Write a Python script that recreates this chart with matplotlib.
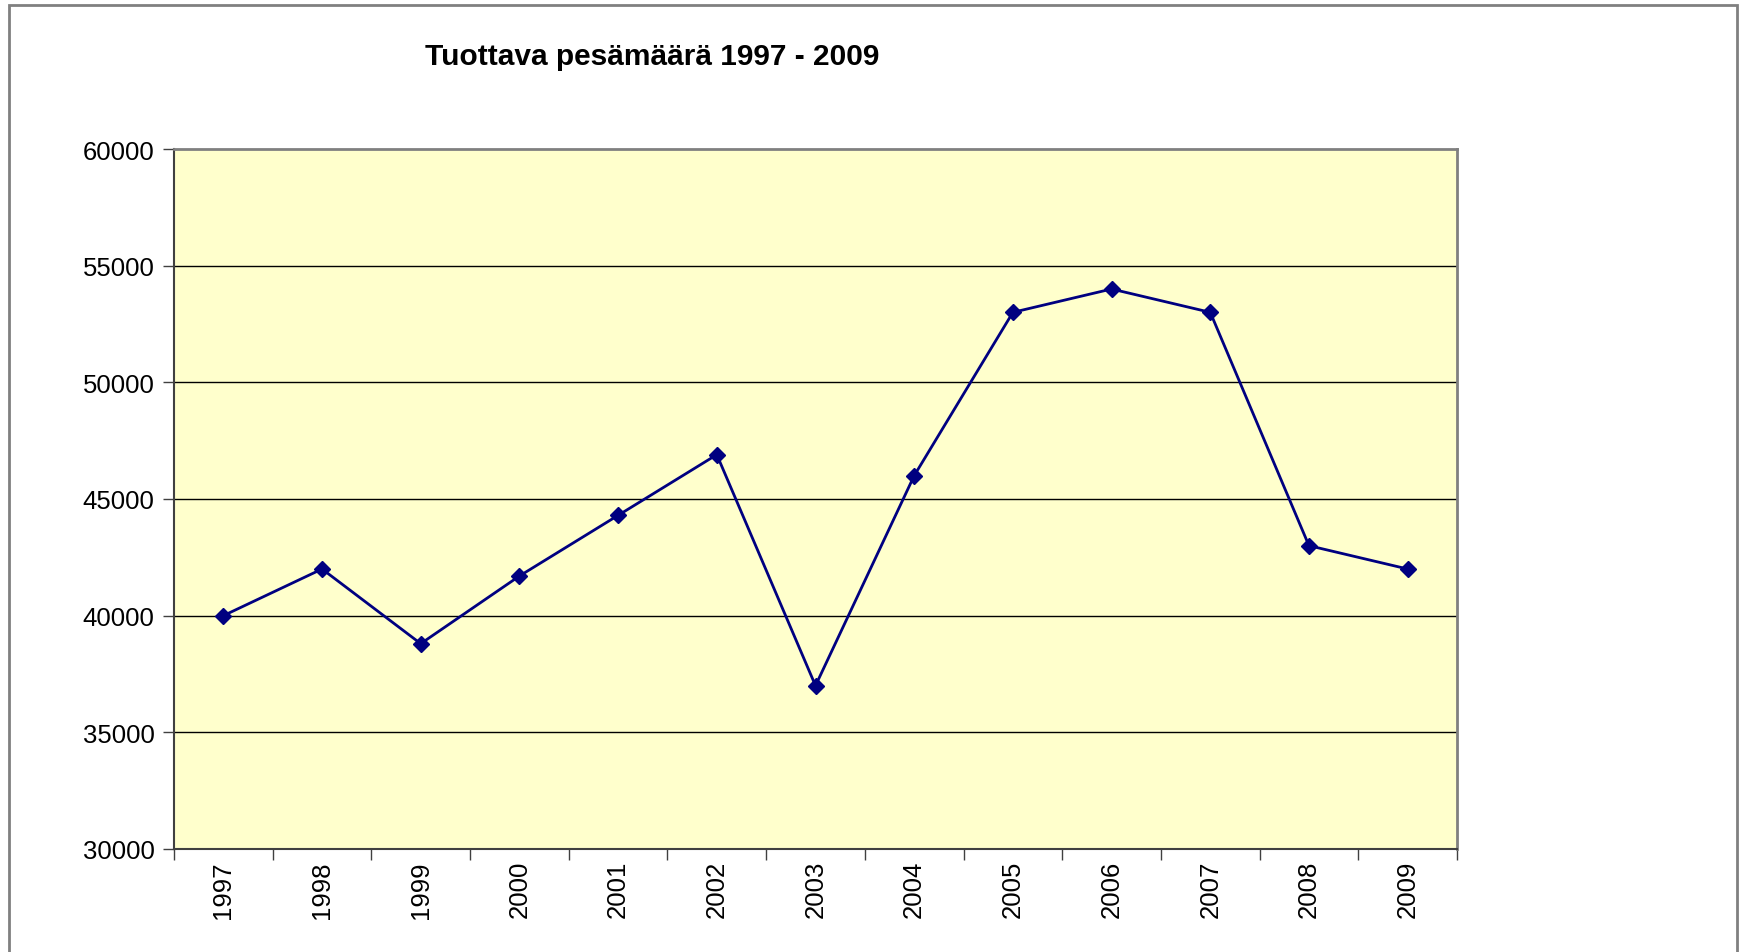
import matplotlib
matplotlib.use('Agg')
import matplotlib.pyplot as plt
from matplotlib.patches import Rectangle

years = ['1997', '1998', '1999', '2000', '2001', '2002', '2003',
         '2004', '2005', '2006', '2007', '2008', '2009']
nests = [40000, 42000, 38800, 41700, 44300, 46900, 37000,
         46000, 53000, 54000, 53000, 43000, 42000]
yticks = [30000, 35000, 40000, 45000, 50000, 55000, 60000]

plt.rcParams['font.family'] = ['Liberation Sans', 'DejaVu Sans']

W, H = 1741, 953
fig = plt.figure(figsize=(W / 100, H / 100), dpi=100)

# outer chart border (bottom edge runs off the image)
fig.patches.append(Rectangle((9 / W, -0.05), (1737 - 9) / W, 1.05 - 6 / H,
                             transform=fig.transFigure, fill=False,
                             edgecolor='#808080', linewidth=2))

ax = fig.add_axes([174 / W, 1 - 850 / H, (1457 - 174) / W, (850 - 150) / H])
ax.set_facecolor('#FFFFCC')

x = range(len(years))
ax.plot(x, nests, color='#000080', linewidth=2, marker='D',
        markersize=8.5, zorder=3)

ax.set_xlim(-0.5, len(years) - 0.5)
ax.set_ylim(30000, 60000)
ax.set_yticks(yticks)
ax.set_yticklabels([str(v) for v in yticks], fontsize=18.5)
for v in yticks[1:-1]:
    ax.axhline(v, color='black', linewidth=1, zorder=1)

# tick marks between categories, labels centered under them
ax.set_xticks([i - 0.5 for i in range(len(years) + 1)])
ax.set_xticklabels([])
ax.set_xticks(list(x), minor=True)
ax.set_xticklabels(years, minor=True, rotation=90, fontsize=18.5)
ax.tick_params(axis='x', which='minor', length=0, pad=8)
ax.tick_params(axis='x', which='major', length=8, width=1, color='#404040',
               direction='out')
ax.tick_params(axis='y', length=8, width=1, color='#404040', pad=6)

for s in ['top', 'right']:
    ax.spines[s].set_color('#808080')
    ax.spines[s].set_linewidth(2)
for s in ['left', 'bottom']:
    ax.spines[s].set_color('#404040')
    ax.spines[s].set_linewidth(1.5)

fig.text(652 / W, 1 - 57 / H, 'Tuottava pesämäärä 1997 - 2009',
         ha='center', va='center', fontsize=21.5, fontweight='bold')

fig.savefig('out.png', dpi=100)
